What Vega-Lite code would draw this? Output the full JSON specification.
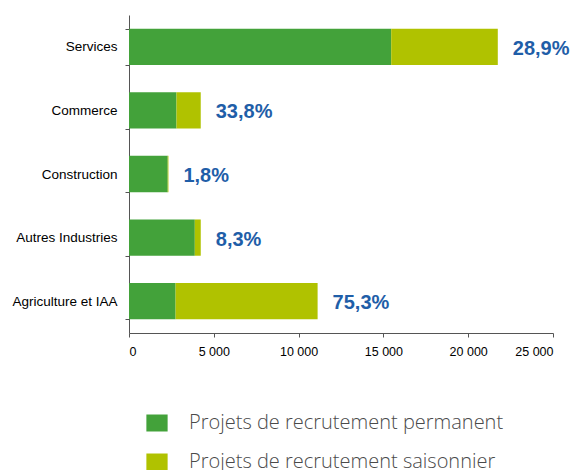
{
  "$schema": "https://vega.github.io/schema/vega-lite/v6.json",
  "width": 424,
  "height": 318,
  "autosize": {"type": "none"},
  "padding": {"left": 129, "top": 15, "right": 21, "bottom": 137},
  "background": "white",
  "config": {"view": {"stroke": null}},
  "datasets": {
    "bars": [
      {"secteur": "Services", "type": "Projets de recrutement permanent", "valeur": 15460, "ordre": 1},
      {"secteur": "Services", "type": "Projets de recrutement saisonnier", "valeur": 6285, "ordre": 2},
      {"secteur": "Commerce", "type": "Projets de recrutement permanent", "valeur": 2800, "ordre": 1},
      {"secteur": "Commerce", "type": "Projets de recrutement saisonnier", "valeur": 1430, "ordre": 2},
      {"secteur": "Construction", "type": "Projets de recrutement permanent", "valeur": 2283, "ordre": 1},
      {"secteur": "Construction", "type": "Projets de recrutement saisonnier", "valeur": 42, "ordre": 2},
      {"secteur": "Autres Industries", "type": "Projets de recrutement permanent", "valeur": 3880, "ordre": 1},
      {"secteur": "Autres Industries", "type": "Projets de recrutement saisonnier", "valeur": 351, "ordre": 2},
      {"secteur": "Agriculture et IAA", "type": "Projets de recrutement permanent", "valeur": 2747, "ordre": 1},
      {"secteur": "Agriculture et IAA", "type": "Projets de recrutement saisonnier", "valeur": 8374, "ordre": 2}
    ],
    "labels": [
      {"secteur": "Services", "total": 21745, "pct": "28,9%"},
      {"secteur": "Commerce", "total": 4230, "pct": "33,8%"},
      {"secteur": "Construction", "total": 2325, "pct": "1,8%"},
      {"secteur": "Autres Industries", "total": 4231, "pct": "8,3%"},
      {"secteur": "Agriculture et IAA", "total": 11121, "pct": "75,3%"}
    ]
  },
  "layer": [
    {
      "data": {"name": "bars"},
      "mark": {"type": "bar"},
      "encoding": {
        "y": {
          "field": "secteur",
          "type": "nominal",
          "sort": ["Services", "Commerce", "Construction", "Autres Industries", "Agriculture et IAA"],
          "scale": {"paddingInner": 0.43, "paddingOuter": 0.215},
          "axis": {
            "title": null,
            "tickBand": "extent",
            "tickSize": 4,
            "tickColor": "#555555",
            "domainColor": "#555555",
            "labelFont": "Liberation Sans",
            "labelFontSize": 13.5,
            "labelColor": "#000000",
            "labelPadding": 8
          }
        },
        "x": {
          "field": "valeur",
          "type": "quantitative",
          "stack": "zero",
          "scale": {"domain": [0, 25000], "nice": false},
          "axis": {
            "title": null,
            "values": [0, 5000, 10000, 15000, 20000, 25000],
            "grid": false,
            "tickSize": 4,
            "tickColor": "#555555",
            "domainColor": "#555555",
            "labelFont": "Liberation Sans",
            "labelFontSize": 12.5,
            "labelColor": "#000000",
            "labelPadding": 8,
            "labelExpr": "replace(format(datum.value, ','), ',', ' ')"
          }
        },
        "color": {
          "field": "type",
          "type": "nominal",
          "scale": {
            "domain": ["Projets de recrutement permanent", "Projets de recrutement saisonnier"],
            "range": ["#43a23a", "#b0c200"]
          },
          "legend": {
            "title": null,
            "orient": "none",
            "legendX": 18,
            "legendY": 398,
            "direction": "vertical",
            "padding": 0,
            "symbolType": "M-1.25,-1H1.25V1H-1.25Z",
            "symbolSize": 289,
            "symbolStrokeWidth": 0,
            "symbolOpacity": 1,
            "labelFont": "Open Sans",
            "labelFontSize": 20,
            "labelFontWeight": 300,
            "labelColor": "#4a4a4a",
            "labelOffset": 22,
            "rowPadding": 19,
            "labelLimit": 400
          }
        },
        "order": {"field": "ordre", "type": "quantitative"}
      }
    },
    {
      "data": {"name": "labels"},
      "mark": {
        "type": "text",
        "align": "left",
        "baseline": "middle",
        "dx": 15,
        "dy": 2,
        "font": "Liberation Sans",
        "fontSize": 20,
        "fontWeight": "bold",
        "color": "#1f5ea8"
      },
      "encoding": {
        "y": {
          "field": "secteur",
          "type": "nominal",
          "sort": ["Services", "Commerce", "Construction", "Autres Industries", "Agriculture et IAA"]
        },
        "x": {"field": "total", "type": "quantitative"},
        "text": {"field": "pct", "type": "nominal"}
      }
    }
  ]
}
